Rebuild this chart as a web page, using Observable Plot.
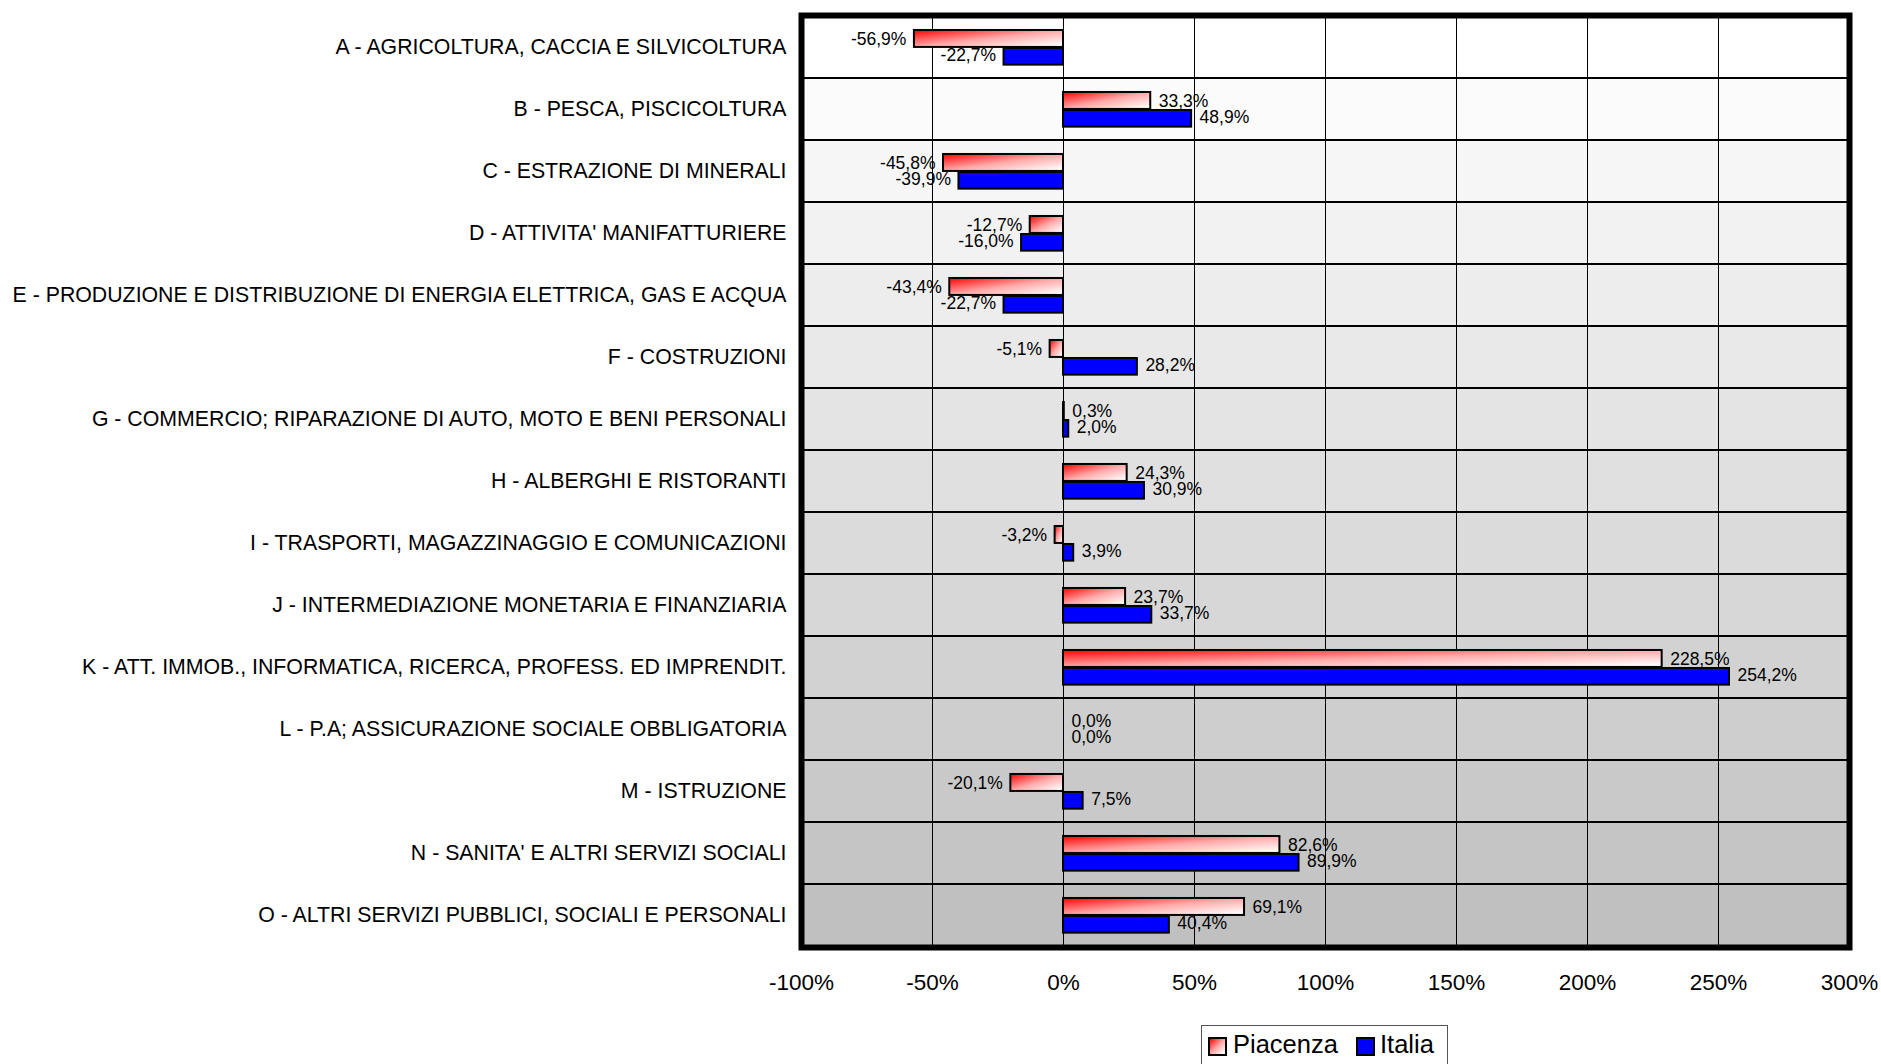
<!DOCTYPE html>
<html>
<head>
<meta charset="utf-8">
<script src="https://cdn.jsdelivr.net/npm/d3@7"></script>
<script src="https://cdn.jsdelivr.net/npm/@observablehq/plot@0.6"></script>
<style>
  html, body { margin: 0; padding: 0; background: #fff; overflow: hidden; }
  #chart { position: relative; width: 1881px; height: 1064px; }
  #chart svg { display: block; }
  #chart [aria-label^="x-axis"] text { font-size: 22.5px; fill: #000; }
  #chart [aria-label^="y-axis"] text { font-size: 21.3px; fill: #000; }
  .legend {
    position: absolute; left: 1201px; top: 1025px; width: 247px; height: 50px;
    border: 1px solid #555; box-sizing: border-box; background: #fff;
    font-family: "Liberation Sans", Arial, sans-serif; font-size: 25.5px; color: #000;
  }
  .legend .sw { position: absolute; top: 11px; width: 15px; height: 15px; border: 2px solid #000; }
  .legend .lb { position: absolute; top: 6px; line-height: 25px; }
</style>
</head>
<body>
<div id="chart"></div>
<script>
const categories = [
  "A - AGRICOLTURA, CACCIA E SILVICOLTURA",
  "B - PESCA, PISCICOLTURA",
  "C - ESTRAZIONE DI MINERALI",
  "D - ATTIVITA' MANIFATTURIERE",
  "E - PRODUZIONE E DISTRIBUZIONE DI ENERGIA ELETTRICA, GAS E ACQUA",
  "F - COSTRUZIONI",
  "G - COMMERCIO; RIPARAZIONE DI AUTO, MOTO E BENI PERSONALI",
  "H - ALBERGHI E RISTORANTI",
  "I - TRASPORTI, MAGAZZINAGGIO E COMUNICAZIONI",
  "J - INTERMEDIAZIONE MONETARIA E FINANZIARIA",
  "K - ATT. IMMOB., INFORMATICA, RICERCA, PROFESS. ED IMPRENDIT.",
  "L - P.A; ASSICURAZIONE SOCIALE OBBLIGATORIA",
  "M - ISTRUZIONE",
  "N - SANITA' E ALTRI SERVIZI SOCIALI",
  "O - ALTRI SERVIZI PUBBLICI, SOCIALI E PERSONALI"
];
const piacenza = [-56.9, 33.3, -45.8, -12.7, -43.4, -5.1, 0.3, 24.3, -3.2, 23.7, 228.5, 0.0, -20.1, 82.6, 69.1];
const italia   = [-22.7, 48.9, -39.9, -16.0, -22.7, 28.2, 2.0, 30.9, 3.9, 33.7, 254.2, 0.0, 7.5, 89.9, 40.4];
const seriesNames = ["Piacenza", "Italia"];
const xDomain = [-100, 300];
const xTicks = [-100, -50, 0, 50, 100, 150, 200, 250, 300];

const table = categories.flatMap((c, i) => [
  {cat: c, series: seriesNames[0], value: piacenza[i]},
  {cat: c, series: seriesNames[1], value: italia[i]}
]);

const W = 1881, H = 1010, mT = 15, mB = 63, mL = 801, mR = 32;
const band = (H - mT - mB) / categories.length;
const shade = d3.scaleLinear().domain([0, categories.length - 1]).range(["#ffffff", "#c0c0c0"]);
const fmt = v => v.toFixed(1).replace(".", ",") + "%";
const isP = d => d.series === seriesNames[0];
const isI = d => d.series === seriesNames[1];
const labelSize = 17.5;

const chart = Plot.plot({
  width: W, height: H,
  marginTop: mT, marginBottom: mB, marginLeft: mL, marginRight: mR,
  style: {fontFamily: "'Liberation Sans', Arial, sans-serif", fontSize: "21px", color: "#000", background: "#fff"},
  x: {domain: xDomain, ticks: 8, tickFormat: d => d + "%", tickSize: 0, tickPadding: 27, label: null},
  y: {domain: categories, padding: 0, tickSize: 0, tickPadding: 15, label: null},
  color: {type: "identity"},
  marks: [
    Plot.barX(categories, {x1: () => xDomain[0], x2: () => xDomain[1], y: d => d,
      fill: (d, i) => shade(i), stroke: "#000", strokeWidth: 2}),
    Plot.ruleX(xTicks, {stroke: "#000", strokeWidth: 1}),
    Plot.barX(table, {filter: d => isP(d) && d.value !== 0, x1: () => 0, x2: "value", y: "cat",
      fill: "url(#gradP)", stroke: "#000", strokeWidth: 2,
      insetTop: band * 0.225, insetBottom: band * 0.5}),
    Plot.barX(table, {filter: d => isI(d) && d.value !== 0, x1: () => 0, x2: "value", y: "cat",
      fill: "#0000ff", stroke: "#000", strokeWidth: 2,
      insetTop: band * 0.515, insetBottom: band * 0.215}),
    Plot.text(table, {filter: d => isP(d) && d.value < 0, x: "value", y: "cat", text: d => fmt(d.value),
      textAnchor: "end", dx: -8, dy: -8.5, fontSize: labelSize, fill: "#000"}),
    Plot.text(table, {filter: d => isP(d) && d.value >= 0, x: "value", y: "cat", text: d => fmt(d.value),
      textAnchor: "start", dx: 8, dy: -8.5, fontSize: labelSize, fill: "#000"}),
    Plot.text(table, {filter: d => isI(d) && d.value < 0, x: "value", y: "cat", text: d => fmt(d.value),
      textAnchor: "end", dx: -8, dy: 8, fontSize: labelSize, fill: "#000"}),
    Plot.text(table, {filter: d => isI(d) && d.value >= 0, x: "value", y: "cat", text: d => fmt(d.value),
      textAnchor: "start", dx: 8, dy: 8, fontSize: labelSize, fill: "#000"}),
    Plot.frame({stroke: "#000", strokeWidth: 6})
  ]
});

d3.select(chart).insert("defs", ":first-child").html(
  '<linearGradient id="gradP" x1="0" y1="0" x2="1" y2="1">' +
  '<stop offset="0" stop-color="#ff0000"/>' +
  '<stop offset="0.5" stop-color="#ffa8a8"/>' +
  '<stop offset="0.95" stop-color="#ffffff"/>' +
  '</linearGradient>');

const host = document.getElementById("chart");
host.appendChild(chart);

const legend = document.createElement("div");
legend.className = "legend";
legend.innerHTML =
  '<span class="sw" style="left:6px;background:linear-gradient(135deg,#ff0000,#ffa8a8 50%,#fff 95%)"></span>' +
  '<span class="lb" style="left:31px">' + seriesNames[0] + '</span>' +
  '<span class="sw" style="left:154px;background:#0000ff"></span>' +
  '<span class="lb" style="left:178px">' + seriesNames[1] + '</span>';
host.appendChild(legend);
</script>
</body>
</html>
